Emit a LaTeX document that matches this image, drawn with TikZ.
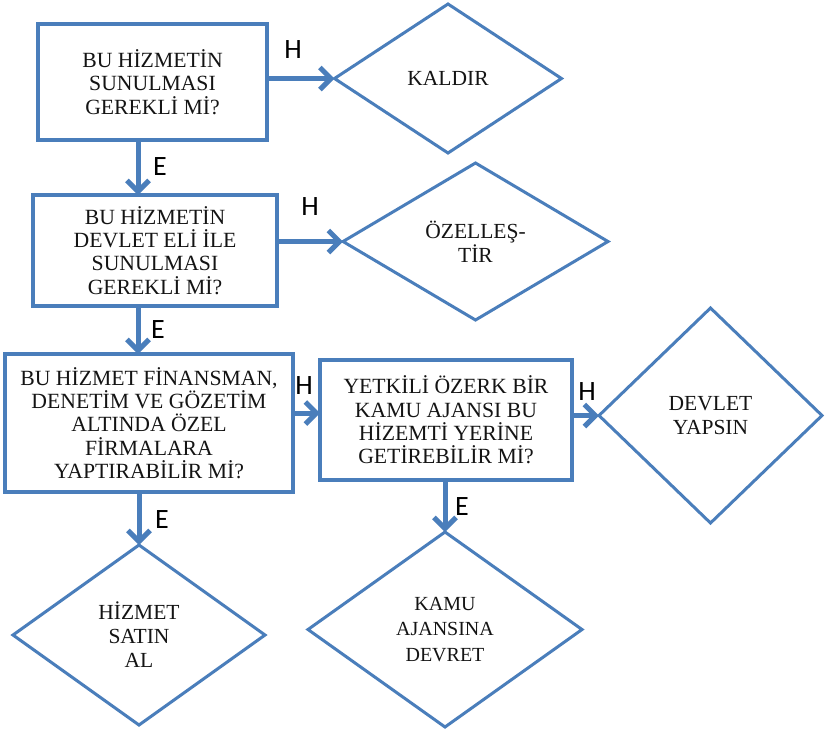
\documentclass[tikz,border=0pt]{standalone}
\usepackage{fontspec}
\setmainfont{Liberation Serif}
\newfontfamily\labfont{Carlito}
\usetikzlibrary{arrows.meta,shapes.geometric}
\definecolor{ln}{RGB}{74,126,187}
\definecolor{tx}{RGB}{20,20,20}
\tikzset{
  qbox/.style={draw=ln, line width=4pt, fill=white, rectangle, inner sep=0pt, outer sep=0pt,
    align=center, text=tx, font=\fontsize{21.7}{23.3}\selectfont},
  dmd/.style={draw=ln, line width=3pt, fill=white, diamond, inner sep=0pt, outer sep=0pt,
    align=center, text=tx, font=\fontsize{21.5}{24}\selectfont},
  flow/.style={draw=ln, line width=5pt, -{Straight Barb[length=11pt,width=22pt]}},
  lab/.style={inner sep=0pt, text=black, font=\labfont\fontsize{28}{28}\selectfont}
}
\begin{document}
\begin{tikzpicture}[x=1pt,y=-1pt]
\useasboundingbox[fill=white] (0,0) rectangle (826,732);
% boxes
\node[qbox, minimum width=229pt, minimum height=116pt] (b1) at (152.5,82) {BU HİZMETİN\\SUNULMASI\\GEREKLİ Mİ?};
\node[qbox, minimum width=244pt, minimum height=111pt] (b2) at (155,250.5) {BU HİZMETİN\\DEVLET ELİ İLE\\SUNULMASI\\GEREKLİ Mİ?};
\node[qbox, minimum width=288pt, minimum height=138pt] (b3) at (149,423) {BU HİZMET FİNANSMAN,\\DENETİM VE GÖZETİM\\ALTINDA ÖZEL\\FİRMALARA\\YAPTIRABİLİR Mİ?};
\node[qbox, minimum width=252pt, minimum height=120pt] (b4) at (446,420) {YETKİLİ ÖZERK BİR\\KAMU AJANSI BU\\HİZEMTİ YERİNE\\GETİREBİLİR Mİ?};
% diamonds
\node[dmd, minimum width=227pt, minimum height=149pt] (d1) at (448,78.5) {KALDIR};
\node[dmd, minimum width=265pt, minimum height=157pt] (d2) at (475.5,241.5) {ÖZELLEŞ-\\TİR};
\node[dmd, minimum width=223pt, minimum height=215pt] (d3) at (710.5,415.5) {DEVLET\\YAPSIN};
\node[dmd, minimum width=252pt, minimum height=180pt] (d4) at (139,635) {HİZMET\\SATIN\\AL};
\node[dmd, minimum width=274pt, minimum height=195pt, font=\fontsize{20}{25.5}\selectfont] (d5) at (445,629.5) {KAMU\\AJANSINA\\DEVRET};
% helper coordinates
\coordinate (cx) at (138,0);
\coordinate (cy) at (0,413);
% connectors
\draw[flow] (b1.east |- d1.west) -- (d1.west);
\draw[flow] (b2.east |- d2.west) -- (d2.west);
\draw[flow] (b1.south -| cx) -- (b2.north -| cx);
\draw[flow] (b2.south -| cx) -- (b3.north -| cx);
\draw[flow] (b3.east |- cy) -- (b4.west |- cy);
\draw[flow] (b4.east |- d3.west) -- (d3.west);
\draw[flow] (b3.south -| d4.north) -- (d4.north);
\draw[flow] (b4.south -| d5.north) -- (d5.north);
% labels
\node[lab] (h1) at (293,50) {H};
\node[lab] (e1) at (160,167) {E};
\node[lab] (h2) at (310,207) {H};
\node[lab] (e2) at (158,330) {E};
\node[lab] (h3) at (304,386) {H};
\node[lab] (h4) at (587,392) {H};
\node[lab] (e3) at (162,520) {E};
\node[lab] (e4) at (462,507) {E};
\end{tikzpicture}
\end{document}
